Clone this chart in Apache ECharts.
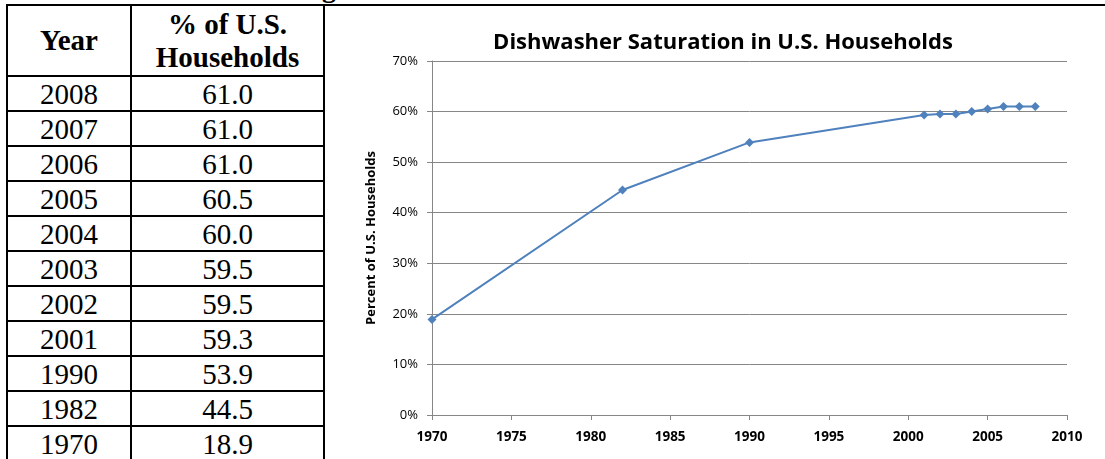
<!DOCTYPE html>
<html>
<head>
<meta charset="utf-8">
<title>Dishwasher Saturation in U.S. Households</title>
<script src="https://cdn.jsdelivr.net/npm/echarts@6/dist/echarts.min.js"></script>
<style>
    html, body { margin: 0; padding: 0; background: #fff; overflow: hidden; }
    body { width: 1105px; height: 459px; position: relative; }
    #chart { position: absolute; left: 0; top: 0; width: 1105px; height: 459px; }
    .topline { position: absolute; left: 7px; right: 0; top: 4px; height: 2px; background: #000; }
    .cut { position: absolute; left: 322px; top: -26px; font: bold 28px/28px "Liberation Serif", serif; }
    table.data {
        position: absolute; left: 6px; top: 4px;
        border-collapse: collapse; table-layout: fixed;
        font-family: "Liberation Serif", "Times New Roman", serif;
        font-size: 29px; color: #000;
    }
    table.data td, table.data th { border: 2px solid #000; padding: 0; text-align: center; line-height: 30px; }
    table.data th { height: 69px; font-weight: bold; line-height: 33px; }
    table.data td { height: 33px; }
</style>
</head>
<body>
<div class="cut">g</div>
<div class="topline"></div>
<table class="data" id="tbl">
    <colgroup><col style="width:124px"><col style="width:193px"></colgroup>
    <thead><tr><th>Year</th><th>% of U.S.<br>Households</th></tr></thead>
    <tbody></tbody>
</table>
<div id="chart"></div>
<script>
    // data
    var years = [1970, 1982, 1990, 2001, 2002, 2003, 2004, 2005, 2006, 2007, 2008];
    var share = [18.9, 44.5, 53.9, 59.3, 59.5, 59.5, 60.0, 60.5, 61.0, 61.0, 61.0];

    // table, newest first
    var tbody = document.querySelector('#tbl tbody');
    for (var i = years.length - 1; i >= 0; i--) {
        var tr = document.createElement('tr');
        tr.innerHTML = '<td>' + years[i] + '</td><td>' + share[i].toFixed(1) + '</td>';
        tbody.appendChild(tr);
    }

    var points = [];
    for (var j = 0; j < years.length; j++) {
        points.push([years[j], share[j]]);
    }

    var myChart = echarts.init(document.getElementById('chart'));
    var option = {
        animation: false,
        title: {
            text: 'Dishwasher Saturation in U.S. Households',
            left: 718,
            textAlign: 'center',
            top: 27,
            textStyle: {
                fontFamily: 'Open Sans',
                fontSize: 22,
                fontWeight: 'bold',
                color: '#000'
            }
        },
        grid: {
            left: 432,
            right: 38,
            top: 61,
            bottom: 44
        },
        xAxis: {
            type: 'value',
            min: 1970,
            max: 2010,
            interval: 5,
            axisLine: {lineStyle: {color: '#868686'}},
            axisTick: {length: 5, lineStyle: {color: '#868686'}},
            axisLabel: {
                formatter: function (v) { return String(v); },
                color: '#000',
                fontFamily: 'Open Sans',
                fontSize: 13.5,
                fontWeight: 'bold',
                margin: 15
            },
            splitLine: {show: false}
        },
        yAxis: {
            type: 'value',
            min: 0,
            max: 70,
            interval: 10,
            name: 'Percent of U.S. Households',
            nameLocation: 'middle',
            nameGap: 54,
            nameTextStyle: {
                color: '#000',
                fontFamily: 'Open Sans',
                fontSize: 13,
                fontWeight: 'bold'
            },
            axisLine: {show: true, lineStyle: {color: '#868686'}},
            axisTick: {show: true, length: 5, lineStyle: {color: '#868686'}},
            axisLabel: {
                formatter: '{value}%',
                color: '#000',
                fontFamily: 'Open Sans',
                fontSize: 13,
                margin: 14
            },
            splitLine: {lineStyle: {color: '#868686'}}
        },
        series: [
            {
                type: 'line',
                data: points,
                symbol: 'diamond',
                symbolSize: 9,
                lineStyle: {color: '#4F81BD', width: 2},
                itemStyle: {color: '#4F81BD'}
            }
        ]
    };
    myChart.setOption(option);
</script>
</body>
</html>
